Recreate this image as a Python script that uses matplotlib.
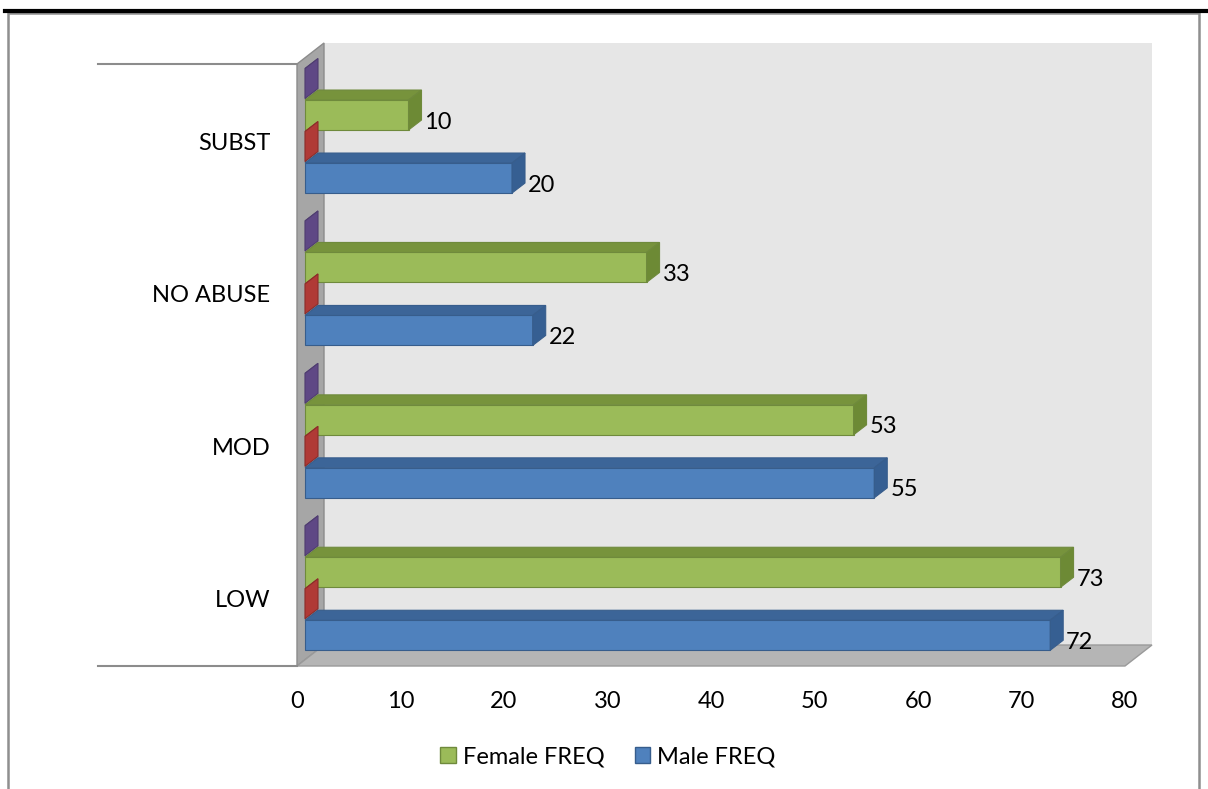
import matplotlib
matplotlib.use("Agg")
from matplotlib import pyplot as plt
from matplotlib.patches import Polygon, Patch, Rectangle
from matplotlib.lines import Line2D

plt.rcParams['font.family'] = ['Lato', 'DejaVu Sans']

# -------- data ----------#
categories = ['LOW', 'MOD', 'NO ABUSE', 'SUBST']
male_freq = [72, 55, 22, 20]
female_freq = [73, 53, 33, 10]
# two more series that sit at (about) zero and are left out of the legend
red_series = [0, 0, 0, 0]
purple_series = [0, 0, 0, 0]
x_ticks = [0, 10, 20, 30, 40, 50, 60, 70, 80]

W, H = 1208, 789
FS = 17
fig = plt.figure(figsize=(W / 100, H / 100), dpi=100)

# front plane of the 3d box
left_px, right_px, top_px, bot_px = 297, 1125, 64, 666
ax = fig.add_axes([left_px / W, (H - bot_px) / H,
                   (right_px - left_px) / W, (bot_px - top_px) / H])
ylo, yhi = -0.475, 3.475
ax.set_xlim(0, 80)
ax.set_ylim(ylo, yhi)
ppx = (right_px - left_px) / 80.0
ppy = (bot_px - top_px) / (yhi - ylo)

# depth of the box and of the bars, in pixels -> data
DX, DY = 27 / ppx, 21 / ppy
fx, fy = 8 / ppx, 5.6 / ppy      # bars front face shift
bx, by = 13 / ppx, 10 / ppy      # bar depth

# walls
ax.add_patch(Rectangle((DX, ylo + DY), 80, yhi - ylo, fc='#e6e6e6', ec='none',
                       zorder=1, clip_on=False))
ax.add_patch(Polygon([(0, ylo), (0, yhi), (DX, yhi + DY), (DX, ylo + DY)],
                     fc='#a6a6a6', ec='#8c8c8c', lw=1, zorder=2, clip_on=False))
ax.add_patch(Polygon([(0, ylo), (80, ylo), (80 + DX, ylo + DY), (DX, ylo + DY)],
                     fc='#b5b5b5', ec='#9a9a9a', lw=1, zorder=2, clip_on=False))

slot = 31.5 / ppy
bar_h = 30 / ppy

series = [
    # values, offset, front, top, side, edge, label?
    (purple_series, 1.5, '#8064a2', '#6a5290', '#5f4885', '#4f3d70', False),
    (female_freq, 0.5, '#9bbb59', '#77933c', '#6d8a35', '#6f8a3c', True),
    (red_series, -0.5, '#c0504d', '#a33c39', '#b03a36', '#8c2d2a', False),
    (male_freq, -1.5, '#4f81bd', '#3c6598', '#365f92', '#375d8c', True),
]

for i in range(len(categories) - 1, -1, -1):
    for k, (vals, off, c_front, c_top, c_side, c_edge, lab) in enumerate(series):
        z = 10 + (len(categories) - 1 - i) * 10 + k * 2
        v = vals[i]
        yc = i + off * slot + fy
        y0, y1 = yc - bar_h / 2, yc + bar_h / 2
        x0, x1 = fx, fx + v
        ax.barh(yc, v, left=x0, height=bar_h, color=c_front, edgecolor=c_edge,
                lw=0.8, zorder=z, clip_on=False)
        ax.add_patch(Polygon([(x0, y1), (x1, y1), (x1 + bx, y1 + by), (x0 + bx, y1 + by)],
                             fc=c_top, ec=c_edge, lw=0.8, zorder=z, clip_on=False))
        ax.add_patch(Polygon([(x1, y0), (x1, y1), (x1 + bx, y1 + by), (x1 + bx, y0 + by)],
                             fc=c_side, ec=c_edge, lw=0.8, zorder=z + 1, clip_on=False))
        if lab:
            ax.text(x1 + bx + 3 / ppx, yc - 7 / ppy, str(v), ha='left', va='center',
                    fontsize=FS, color='black', zorder=80)

ax.set_xticks(x_ticks)
ax.set_xticklabels([str(t) for t in x_ticks])
ax.set_yticks([i - 5 / ppy for i in range(len(categories))])
ax.set_yticklabels(categories)
ax.tick_params(axis='both', length=0, labelsize=FS, colors='black')
ax.tick_params(axis='x', pad=18)
ax.tick_params(axis='y', pad=19)
for s in ax.spines.values():
    s.set_visible(False)
ax.patch.set_visible(False)

# axis lines to the left of the wall
for yy in (top_px, bot_px):
    fig.add_artist(Line2D([98 / W, left_px / W], [(H - yy) / H] * 2,
                          color='#8c8c8c', lw=1.5))

# outer frame and top rule
fig.add_artist(Rectangle((8 / W, -0.01), (1199 - 8) / W, (H - 13) / H + 0.01,
                         transform=fig.transFigure, fill=False, ec='#8f8f8f', lw=1.8))
fig.add_artist(Line2D([5 / W, 1], [(H - 11) / H] * 2, color='black', lw=3))

fig.legend(handles=[Patch(fc='#9bbb59', ec='#6f8a3c'), Patch(fc='#4f81bd', ec='#375d8c')],
           labels=['Female FREQ', 'Male FREQ'], loc='center',
           bbox_to_anchor=(608 / W, 1 - 757 / H), ncol=2, frameon=False,
           fontsize=FS, handlelength=0.65, handleheight=0.65, handletextpad=0.3,
           columnspacing=1.3)

fig.savefig('out.png', dpi=100)
